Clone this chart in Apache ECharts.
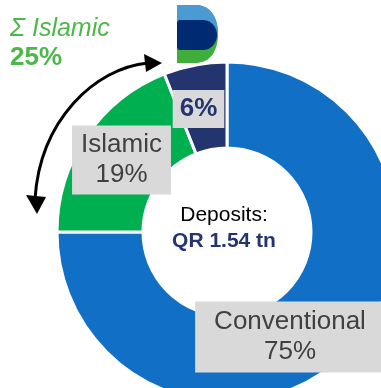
<!DOCTYPE html>
<html>
<head>
<meta charset="utf-8">
<script src="https://cdn.jsdelivr.net/npm/echarts@6/dist/echarts.min.js"></script>
<style>
  html, body { margin: 0; padding: 0; background: #fff; }
  #chart { width: 381px; height: 388px; }
</style>
</head>
<body>
<div id="chart"></div>
<script>
// Deposit split by bank type (share of total deposits, %)
const categories = ['Conventional', 'Islamic', ''];
const shares = [75, 19, 6];
const islamicParts = [1, 2];           // indices that make up the Islamic total
const centerTitle = 'Deposits:';
const centerValue = 'QR 1.54 tn';

const sliceColors = ['#1170c5', '#00b050', '#24346f'];
const FONT = 'Liberation Sans, Arial, sans-serif';

// label box placement (centre of each box) and padding
const labelSpots = [
  { x: 290, y: 337, padding: [6, 19, 5, 19] },
  { x: 121.5, y: 160, padding: [5, 9, 4, 9] },
  { x: 198.5, y: 109, padding: [4, 7, 4, 7] }
];

const islamicTotal = islamicParts.reduce((s, i) => s + shares[i], 0);

// sample a cubic bezier into polygon points
function cubic(p0, p1, p2, p3, n) {
  const pts = [];
  for (let k = 0; k <= n; k++) {
    const t = k / n, u = 1 - t;
    pts.push([
      u * u * u * p0[0] + 3 * u * u * t * p1[0] + 3 * u * t * t * p2[0] + t * t * t * p3[0],
      u * u * u * p0[1] + 3 * u * u * t * p1[1] + 3 * u * t * t * p2[1] + t * t * t * p3[1]
    ]);
  }
  return pts;
}

// logo outlines
const logoD = [[177, 5]]
  .concat(cubic([196, 5], [210, 5], [218, 17], [218, 34], 12))
  .concat(cubic([218, 34], [218, 51], [210, 63], [196, 63], 12))
  .concat([[177, 63]]);
const logoTop = [[177, 5]]
  .concat(cubic([196, 5], [210, 5], [218, 17], [218, 34], 12))
  .concat([[218, 37], [177, 37]]);
const logoBand = [[177, 22], [179, 20]]
  .concat(cubic([203, 20], [211, 20], [217, 27], [217, 35], 10))
  .concat(cubic([217, 35], [217, 43], [211, 50], [203, 50], 10))
  .concat([[179, 50], [177, 48]]);

const chart = echarts.init(document.getElementById('chart'), null, { renderer: 'canvas' });

const data = categories.map((name, i) => ({
  name: name,
  value: shares[i],
  itemStyle: { color: sliceColors[i] },
  label: {
    padding: labelSpots[i].padding,
    color: name ? '#404040' : '#24346f',
    fontWeight: name ? 'normal' : 'bold'
  }
}));

chart.setOption({
  animation: false,
  series: [{
    type: 'pie',
    center: [227, 232],
    radius: [84, 170],
    startAngle: 90,
    clockwise: true,
    silent: true,
    itemStyle: { borderColor: '#ffffff', borderWidth: 3 },
    label: {
      show: true,
      position: 'inside',
      fontFamily: FONT,
      fontSize: 26,
      lineHeight: 30,
      backgroundColor: '#d9d9d9',
      align: 'center',
      formatter: p => (p.name ? p.name + '\n' : '') + p.value + '%'
    },
    labelLine: { show: false },
    labelLayout: p => ({
      x: labelSpots[p.dataIndex].x,
      y: labelSpots[p.dataIndex].y,
      align: 'center',
      verticalAlign: 'middle'
    }),
    data: data
  }],
  graphic: [
    // centre caption
    {
      type: 'text', x: 224, y: 215,
      style: { text: centerTitle, font: '21px ' + FONT, fill: '#000', align: 'center', verticalAlign: 'middle' }
    },
    {
      type: 'text', x: 224, y: 241,
      style: { text: centerValue, font: 'bold 21px ' + FONT, fill: '#24346f', align: 'center', verticalAlign: 'middle' }
    },
    // Islamic total
    {
      type: 'text', x: 10, y: 29,
      style: { text: 'Σ Islamic', font: 'italic 25px ' + FONT, fill: '#4cb848', verticalAlign: 'middle' }
    },
    {
      type: 'text', x: 10, y: 58,
      style: { text: islamicTotal + '%', font: 'bold 26px ' + FONT, fill: '#4cb848', verticalAlign: 'middle' }
    },
    // double-headed arrow spanning the Islamic slices
    {
      type: 'bezierCurve',
      shape: { x1: 148, y1: 63, cpx1: 95, cpy1: 68, cpx2: 40, cpy2: 120, x2: 35, y2: 199 },
      style: { fill: null, stroke: '#000', lineWidth: 3 }
    },
    {
      type: 'polygon',
      shape: { points: [[162, 63], [144, 54], [146, 72]] },
      style: { fill: '#000' }
    },
    {
      type: 'polygon',
      shape: { points: [[26, 195], [46, 197], [37, 214]] },
      style: { fill: '#000' }
    },
    // logo mark
    { type: 'polygon', shape: { points: logoD }, style: { fill: '#3fae3a' } },
    { type: 'polygon', shape: { points: logoTop }, style: { fill: '#4b9ad2' } },
    { type: 'polygon', shape: { points: logoBand }, style: { fill: '#002b73' } }
  ]
});
</script>
</body>
</html>
